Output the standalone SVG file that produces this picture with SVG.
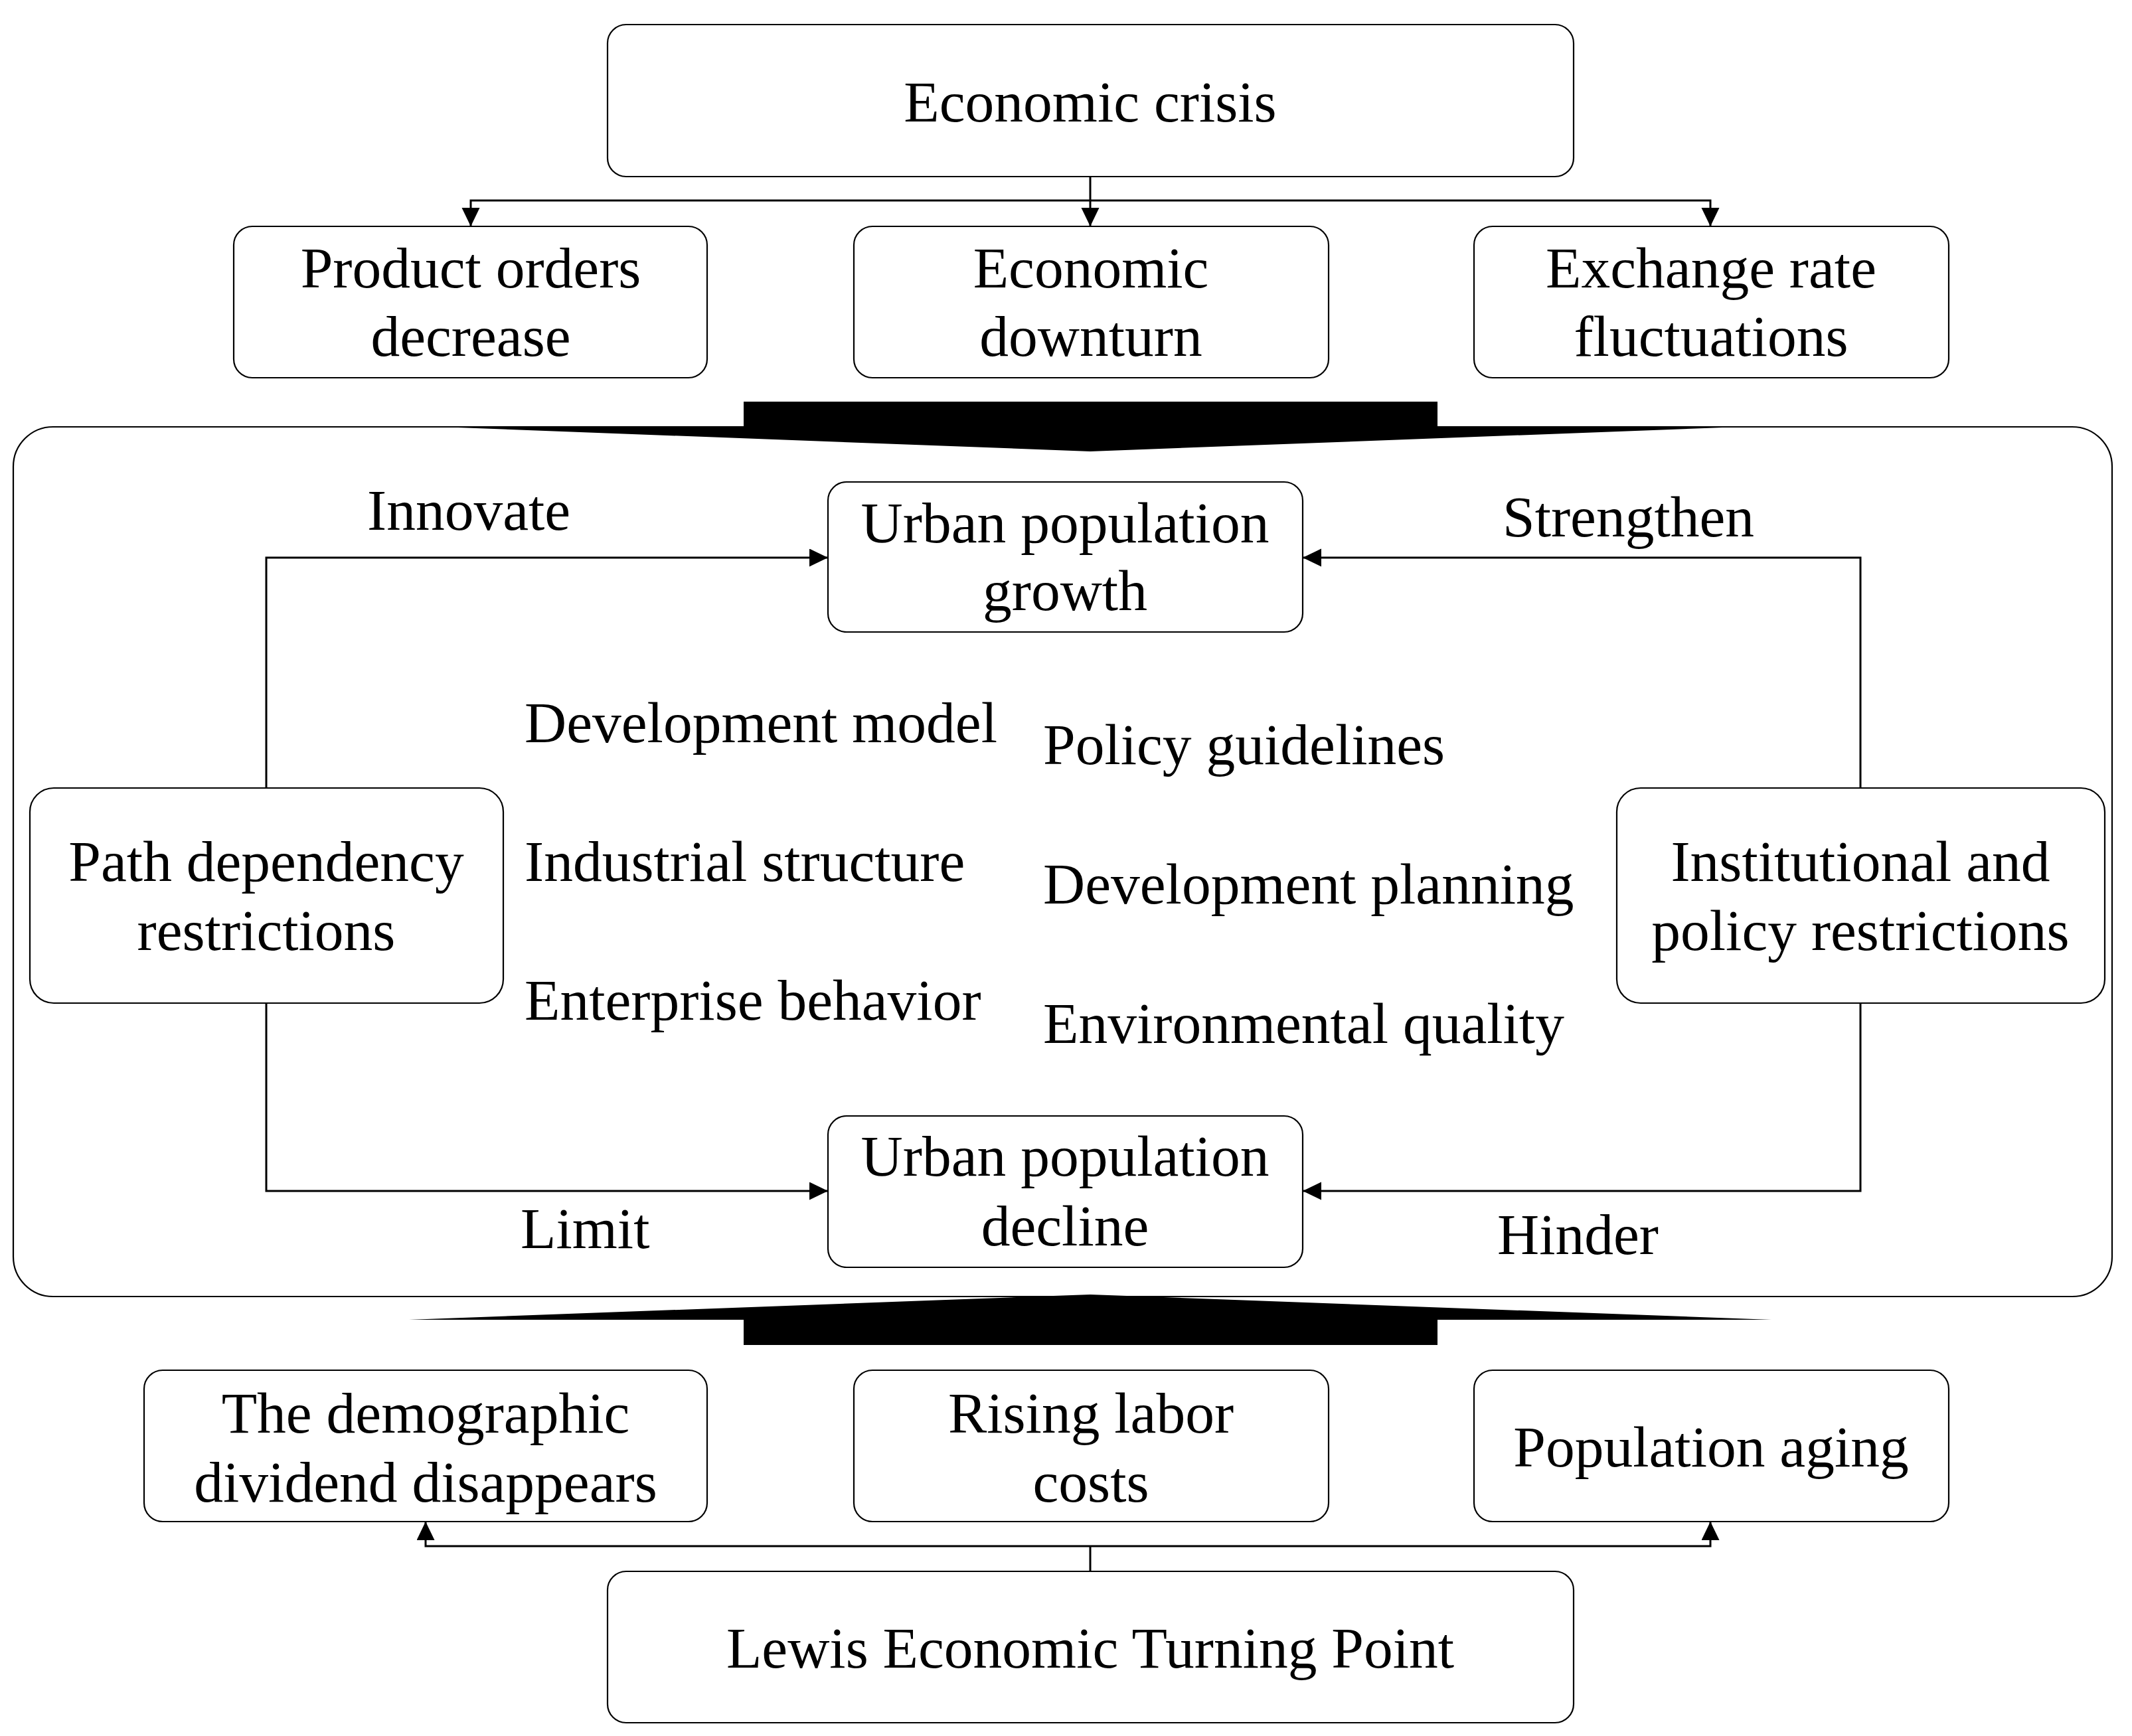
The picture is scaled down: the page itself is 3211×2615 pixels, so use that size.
<svg xmlns="http://www.w3.org/2000/svg" width="3211" height="2615" viewBox="0 0 3211 2615">
<style>
.box{fill:#fff;stroke:#000;stroke-width:2.2}
.t{font-family:"Liberation Serif","Times New Roman",serif;font-size:87.5px;fill:#000}
.c{text-anchor:middle}
.ln{fill:none;stroke:#000;stroke-width:3}
</style>
<defs>
<marker id="ah" markerUnits="userSpaceOnUse" markerWidth="30" markerHeight="28" refX="28" refY="13.5" orient="auto">
<path d="M0,0 L28,13.5 L0,27 z" fill="#000"/>
</marker>
</defs>
<rect width="3211" height="2615" fill="#fff"/>
<g id="container"><rect class="box" x="20" y="643" width="3161" height="1310" rx="60"/></g>
<g id="big-arrows">
<polygon points="1120,605 2165,605 2165,643 2621,643 1642,680 663,643 1120,643" fill="#000"/>
<polygon points="616,1988 1120,1988 1120,2026 2165,2026 2165,1988 2668,1988 1642,1950" fill="#000"/>
</g>
<g id="connectors">
<path class="ln" d="M1642,266 V341" marker-end="url(#ah)"/>
<path class="ln" d="M1642,302 H709 V341" marker-end="url(#ah)"/>
<path class="ln" d="M1642,302 H2576 V341" marker-end="url(#ah)"/>
<path class="ln" d="M401,1187 V840 H1247" marker-end="url(#ah)"/>
<path class="ln" d="M2802,1187 V840 H1962" marker-end="url(#ah)"/>
<path class="ln" d="M401,1511 V1794 H1247" marker-end="url(#ah)"/>
<path class="ln" d="M2802,1511 V1794 H1962" marker-end="url(#ah)"/>
<path class="ln" d="M1642,2367 V2329"/>
<path class="ln" d="M1642,2329 H641 V2292" marker-end="url(#ah)"/>
<path class="ln" d="M1642,2329 H2576 V2292" marker-end="url(#ah)"/>
</g>
<g id="economic-crisis"><rect class="box" x="915" y="37" width="1455" height="229" rx="28"/><text class="t c" x="1642" y="183">Economic crisis</text></g>
<g id="product-orders"><rect class="box" x="352" y="341" width="713" height="228" rx="28"/><text class="t c" x="709" y="433">Product orders</text><text class="t c" x="709" y="536">decrease</text></g>
<g id="economic-downturn"><rect class="box" x="1286" y="341" width="715" height="228" rx="28"/><text class="t c" x="1643" y="433">Economic</text><text class="t c" x="1643" y="536">downturn</text></g>
<g id="exchange-rate"><rect class="box" x="2220" y="341" width="715" height="228" rx="28"/><text class="t c" x="2577" y="433">Exchange rate</text><text class="t c" x="2577" y="536">fluctuations</text></g>
<g id="urban-growth"><rect class="box" x="1247" y="726" width="715" height="226" rx="28"/><text class="t c" x="1604" y="817">Urban population</text><text class="t c" x="1604" y="919">growth</text></g>
<g id="path-dependency"><rect class="box" x="45" y="1187" width="713" height="324" rx="36"/><text class="t c" x="401" y="1327">Path dependency</text><text class="t c" x="401" y="1431">restrictions</text></g>
<g id="institutional"><rect class="box" x="2435" y="1187" width="735" height="324" rx="36"/><text class="t c" x="2802" y="1327">Institutional and</text><text class="t c" x="2802" y="1431">policy restrictions</text></g>
<g id="urban-decline"><rect class="box" x="1247" y="1681" width="715" height="228" rx="28"/><text class="t c" x="1604" y="1771">Urban population</text><text class="t c" x="1604" y="1876">decline</text></g>
<g id="labels">
<text class="t" x="553" y="798">Innovate</text>
<text class="t" x="2263" y="808">Strengthen</text>
<text class="t" x="784" y="1880">Limit</text>
<text class="t" x="2255" y="1889">Hinder</text>
<text class="t" x="790" y="1118">Development model</text>
<text class="t" x="790" y="1327">Industrial structure</text>
<text class="t" x="790" y="1536">Enterprise behavior</text>
<text class="t" x="1571" y="1151">Policy guidelines</text>
<text class="t" x="1571" y="1361">Development planning</text>
<text class="t" x="1571" y="1571">Environmental quality</text>
</g>
<g id="demographic"><rect class="box" x="217" y="2064" width="848" height="228" rx="28"/><text class="t c" x="641" y="2158">The demographic</text><text class="t c" x="641" y="2262">dividend disappears</text></g>
<g id="labor-costs"><rect class="box" x="1286" y="2064" width="715" height="228" rx="28"/><text class="t c" x="1643" y="2158">Rising labor</text><text class="t c" x="1643" y="2262">costs</text></g>
<g id="aging"><rect class="box" x="2220" y="2064" width="715" height="228" rx="28"/><text class="t c" x="2577" y="2209">Population aging</text></g>
<g id="lewis"><rect class="box" x="915" y="2367" width="1455" height="228" rx="28"/><text class="t c" x="1642" y="2512">Lewis Economic Turning Point</text></g>
</svg>
